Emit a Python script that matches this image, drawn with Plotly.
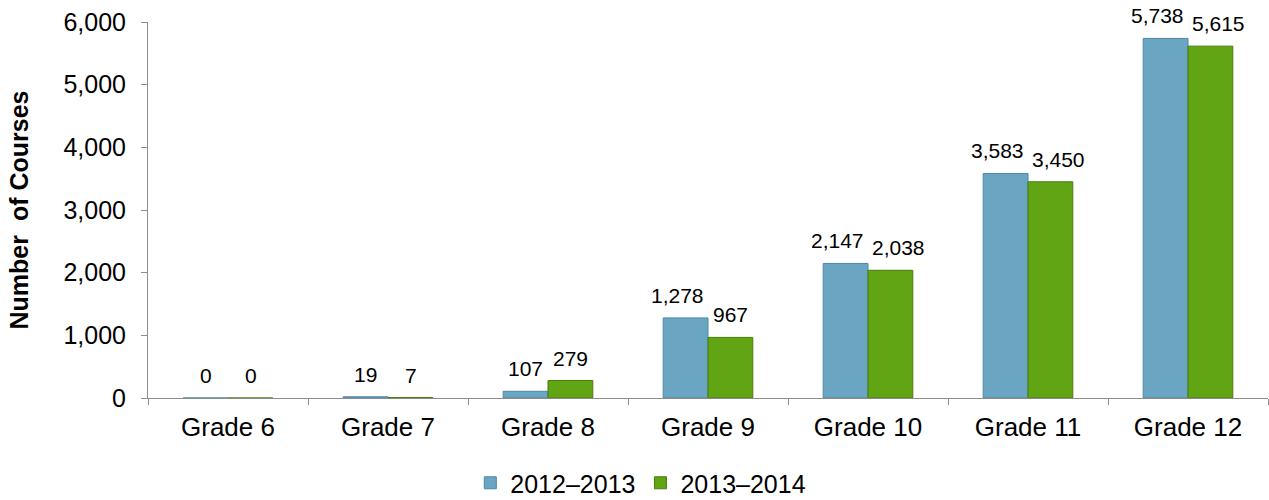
import plotly.graph_objects as go

categories = ["Grade 6", "Grade 7", "Grade 8", "Grade 9", "Grade 10", "Grade 11", "Grade 12"]
series_names = ["2012–2013", "2013–2014"]
values_2012 = [0, 19, 107, 1278, 2147, 3583, 5738]
values_2013 = [0, 7, 279, 967, 2038, 3450, 5615]
y_ticks = [0, 1000, 2000, 3000, 4000, 5000, 6000]

FONT = "Liberation Sans, Arial, sans-serif"
BAR_HALF_PX = 22.5  # half bar width in pixels (plot width 1120 / 7 groups * 0.28)

fig = go.Figure()
series = [
    (series_names[0], values_2012, "#6aa6c1", "#4d87a3", -1),
    (series_names[1], values_2013, "#62a514", "#467d08", 1),
]
for name, vals, col, edge, side in series:
    fig.add_trace(go.Bar(
        x=categories, y=vals, name=name,
        marker=dict(color=col, line=dict(color=edge, width=1)),
        hoverinfo="x+y",
    ))
    for c, v in zip(categories, vals):
        label = f"{v:,}"
        spread = 8 if len(label) >= 4 else 0
        fig.add_annotation(
            x=c, y=v, text=label, showarrow=False,
            xref="x", yref="y", xanchor="center", yanchor="bottom",
            xshift=side * (BAR_HALF_PX + spread), yshift=9,
            font=dict(size=21, color="#000000", family=FONT),
        )

fig.update_layout(
    width=1269, height=500,
    margin=dict(l=148, r=1, t=22, b=102, autoexpand=False),
    paper_bgcolor="white", plot_bgcolor="white",
    barmode="group", bargap=0.44, bargroupgap=0,
    font=dict(family=FONT, color="#000000"),
    showlegend=True,
    legend=dict(orientation="h", x=0.44, xanchor="center", y=-0.165, yanchor="top",
                font=dict(size=25, family=FONT), itemwidth=30, traceorder="normal"),
)
fig.update_xaxes(
    automargin=False,
    showline=True, linecolor="#8c8c8c", linewidth=1,
    ticks="outside", tickson="boundaries", ticklen=6, tickcolor="#8c8c8c",
    tickfont=dict(size=26, family=FONT), showgrid=False, ticklabelstandoff=6,
)
fig.update_yaxes(
    automargin=False,
    range=[0, 6000], tickvals=y_ticks, tickformat=",d",
    showline=True, linecolor="#8c8c8c", linewidth=1,
    ticks="outside", ticklen=6, tickcolor="#8c8c8c",
    tickfont=dict(size=25, family=FONT), showgrid=False, zeroline=False,
    ticklabelstandoff=10,
    title=dict(text="<b>Number\u00a0 of Courses</b>", font=dict(size=25, family=FONT), standoff=27),
)
fig.write_html("out.html", config={"displayModeBar": False},
               post_script="document.body.style.margin='0';")
